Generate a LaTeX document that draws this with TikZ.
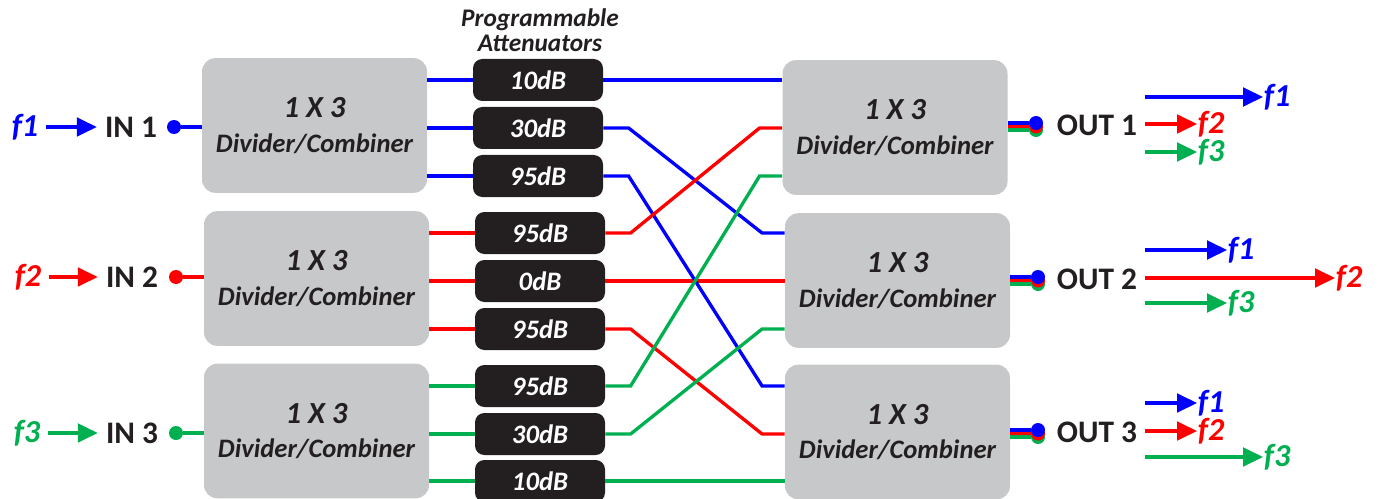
\documentclass[tikz,border=0pt]{standalone}
\usepackage{fontspec}
\setmainfont{Carlito}
\usetikzlibrary{arrows.meta}
\definecolor{bl}{HTML}{0000FF}
\definecolor{rd}{HTML}{FF0000}
\definecolor{gn}{HTML}{00B050}
\definecolor{dk}{HTML}{231F20}
\definecolor{gr}{HTML}{C7C8CA}
\newcommand{\divcomb}{{\fontsize{23}{26}\selectfont 1 X 3}\\Divider/Combiner}
\tikzset{block/.style = {fill=gr, rounded corners=10pt, minimum height=101pt, minimum width=168.75pt, text=dk, align=center, font=\fontsize{20}{26}\selectfont\bfseries\itshape},
         att/.style = {fill=dk, rounded corners=7pt, minimum height=31.5pt, minimum width=97.5pt, text=white, font=\fontsize{20}{20}\selectfont\bfseries\itshape},
         dot/.style = {circle, inner sep=0pt, minimum size=10.5pt},
         port/.style = {text=dk, font=\fontsize{23.5}{23.5}\selectfont\bfseries, inner sep=6pt},
         freq/.style = {font=\fontsize{24}{24}\selectfont\bfseries\itshape, inner sep=0.5pt},
         wire/.style = {line width=2.5pt},
         arr/.style = {line width=2.5pt, -{Triangle[length=15pt,width=14pt]}}}

\begin{document}
\begin{tikzpicture}[x=0.75pt,y=-0.75pt]
    \useasboundingbox(0,0)rectangle(1380,499);
    \node[align=center, text=dk, font=\fontsize{19}{19}\selectfont\bfseries\itshape](title)at(540,30){Programmable\\Attenuators};
    \node[block](L1)at(314.5,125.5){\divcomb};
    \node[block](L2)at(316.5,278.5){\divcomb};
    \node[block](L3)at(316.5,431){\divcomb};
    \node[block](R1)at(895,127.5){\divcomb};
    \node[block](R2)at(897.5,280.5){\divcomb};
    \node[block](R3)at(897.5,432){\divcomb};
    \node[att](a1)at(538,80){10dB};
    \node[att](a2)at(538,128){30dB};
    \node[att](a3)at(538,176){95dB};
    \node[att](a4)at(540,233){95dB};
    \node[att](a5)at(540,281){0dB};
    \node[att](a6)at(540,329){95dB};
    \node[att](a7)at(540,386){95dB};
    \node[att](a8)at(540,434){30dB};
    \node[att](a9)at(540,481){10dB};
    \coordinate(i1)at(R1.180|-a1);
    \coordinate(i2)at(R1.180|-a2);
    \coordinate(i3)at(R1.180|-a3);
    \coordinate(i4)at(R2.180|-a4);
    \coordinate(i5)at(R2.180|-a5);
    \coordinate(i6)at(R2.180|-a6);
    \coordinate(i7)at(R3.180|-a7);
    \coordinate(i8)at(R3.180|-a8);
    \coordinate(i9)at(R3.180|-a9);
    % divider outputs to attenuators
    \draw[wire,bl](a1.180-|L1.0)--(a1.180);
    \draw[wire,bl](a2.180-|L1.0)--(a2.180);
    \draw[wire,bl](a3.180-|L1.0)--(a3.180);
    \draw[wire,rd](a4.180-|L2.0)--(a4.180);
    \draw[wire,rd](a5.180-|L2.0)--(a5.180);
    \draw[wire,rd](a6.180-|L2.0)--(a6.180);
    \draw[wire,gn](a7.180-|L3.0)--(a7.180);
    \draw[wire,gn](a8.180-|L3.0)--(a8.180);
    \draw[wire,gn](a9.180-|L3.0)--(a9.180);
    % attenuators to combiners
    \draw[wire,bl](a1.0)--(i1);
    \draw[wire,rd](a5.0)--(i5);
    \draw[wire,gn](a9.0)--(i9);
    \draw[wire,bl](a2.0)--++(19pt,0)--([xshift=-17pt]i4)--(i4);
    \draw[wire,bl](a3.0)--++(19pt,0)--([xshift=-17pt]i7)--(i7);
    \draw[wire,rd](a4.0)--++(19pt,0)--([xshift=-17pt]i2)--(i2);
    \draw[wire,rd](a6.0)--++(19pt,0)--([xshift=-17pt]i8)--(i8);
    \draw[wire,gn](a7.0)--++(19pt,0)--([xshift=-17pt]i3)--(i3);
    \draw[wire,gn](a8.0)--++(19pt,0)--([xshift=-17pt]i6)--(i6);
    % inputs
    \node[freq,text=bl](f1)at(25,127){f1};
    \node[freq,text=rd](f2)at(28,277){f2};
    \node[freq,text=gn](f3)at(27,433){f3};
    \node[port](in1)at(131,127){IN 1};
    \node[port](in2)at(132,277){IN 2};
    \node[port](in3)at(132,433){IN 3};
    \node[dot,fill=bl](d1)at(174,127){};
    \node[dot,fill=rd](d2)at(176,277){};
    \node[dot,fill=gn](d3)at(176,433){};
    \draw[arr,bl,shorten <=5pt](f1)--(in1);
    \draw[arr,rd,shorten <=5pt](f2)--(in2);
    \draw[arr,gn,shorten <=5pt](f3)--(in3);
    \draw[wire,bl](d1)--(d1-|L1.180);
    \draw[wire,rd](d2)--(d2-|L2.180);
    \draw[wire,gn](d3)--(d3-|L3.180);
    % outputs
    \node[dot,fill=gn](g1)at(1036,130){};
    \node[dot,fill=rd](r1)at(1036,126.5){};
    \node[dot,fill=bl](b1)at(1036,123){};
    \node[dot,fill=gn](g2)at(1038,284){};
    \node[dot,fill=rd](r2)at(1038,280.5){};
    \node[dot,fill=bl](b2)at(1038,277){};
    \node[dot,fill=gn](g3)at(1038,437){};
    \node[dot,fill=rd](r3)at(1038,433.5){};
    \node[dot,fill=bl](b3)at(1038,430){};
    \draw[wire,gn](g1)--(g1-|R1.0);
    \draw[wire,rd](r1)--(r1-|R1.0);
    \draw[wire,bl](b1)--(b1-|R1.0);
    \draw[wire,gn](g2)--(g2-|R2.0);
    \draw[wire,rd](r2)--(r2-|R2.0);
    \draw[wire,bl](b2)--(b2-|R2.0);
    \draw[wire,gn](g3)--(g3-|R3.0);
    \draw[wire,rd](r3)--(r3-|R3.0);
    \draw[wire,bl](b3)--(b3-|R3.0);
    \node[port](out1)at(1097,125){OUT 1};
    \node[port](out2)at(1097,279){OUT 2};
    \node[port](out3)at(1097,432){OUT 3};
    \node[freq,text=bl,anchor=west](o11)at(1263,97){f1};
    \node[freq,text=rd,anchor=west](o12)at(1197,124){f2};
    \node[freq,text=gn,anchor=west](o13)at(1197,152){f3};
    \node[freq,text=bl,anchor=west](o21)at(1227,250){f1};
    \node[freq,text=rd,anchor=west](o22)at(1335,278){f2};
    \node[freq,text=gn,anchor=west](o23)at(1227,303){f3};
    \node[freq,text=bl,anchor=west](o31)at(1197,403){f1};
    \node[freq,text=rd,anchor=west](o32)at(1197,431){f2};
    \node[freq,text=gn,anchor=west](o33)at(1263,457){f3};
    \draw[arr,bl](out1.0|-o11)--(o11.180);
    \draw[arr,rd](out1.0|-o12)--(o12.180);
    \draw[arr,gn](out1.0|-o13)--(o13.180);
    \draw[arr,bl](out2.0|-o21)--(o21.180);
    \draw[arr,rd](out2.0|-o22)--(o22.180);
    \draw[arr,gn](out2.0|-o23)--(o23.180);
    \draw[arr,bl](out3.0|-o31)--(o31.180);
    \draw[arr,rd](out3.0|-o32)--(o32.180);
    \draw[arr,gn](out3.0|-o33)--(o33.180);
\end{tikzpicture}
\end{document}
